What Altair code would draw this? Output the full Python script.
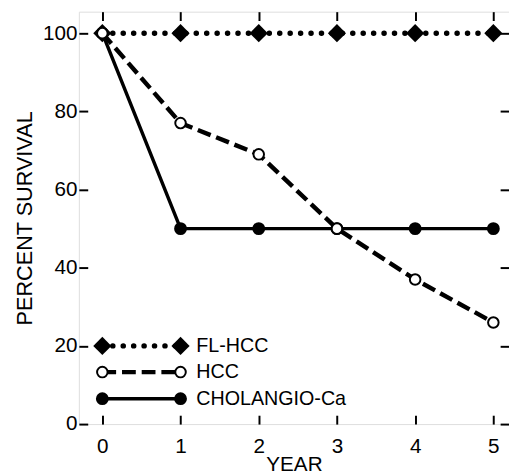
import altair as alt
import pandas as pd

years = [0, 1, 2, 3, 4, 5]
fl_hcc = [100, 100, 100, 100, 100, 100]
hcc = [100, 77, 69, 50, 37, 26]
cholangio = [100, 50, 50, 50, 50, 50]
series_names = ["FL-HCC", "HCC", "CHOLANGIO-Ca"]
legend_rows = [20, 13.3, 6.5]   # legend rows, in percent units
legend_span = [0, 1]            # legend sample lines run from year 0 to year 1
x_ticks = [0, 1, 2, 3, 4, 5]
y_ticks = [0, 20, 40, 60, 80, 100]

FONT = "Liberation Sans"

values = {"FL-HCC": fl_hcc, "HCC": hcc, "CHOLANGIO-Ca": cholangio}
main = pd.DataFrame(
    [{"series": s, "year": yr, "survival": v}
     for s in series_names for yr, v in zip(years, values[s])]
)
leg = pd.DataFrame(
    [{"series": s, "year": xv, "survival": ry}
     for s, ry in zip(series_names, legend_rows) for xv in legend_span]
)
leg_text = pd.DataFrame(
    [{"series": s, "year": legend_span[1], "survival": ry}
     for s, ry in zip(series_names, legend_rows)]
)

xscale = alt.Scale(domain=[-0.3, 5.2], nice=False, zero=False)
yscale = alt.Scale(domain=[0, 105.5], nice=False)

x_axis = alt.Axis(values=x_ticks, tickSize=9, offset=-9, domain=False, grid=False,
                  tickColor="black", tickWidth=2, labelFont=FONT, labelFontSize=21,
                  labelColor="black", labelPadding=12, title="YEAR", titleFont=FONT,
                  titleFontSize=21, titleFontWeight="normal", titleColor="black",
                  titlePadding=-3)
y_axis = alt.Axis(values=y_ticks, tickSize=9, offset=-9, domain=False, grid=False,
                  tickColor="black", tickWidth=2, labelFont=FONT, labelFontSize=21,
                  labelColor="black", labelPadding=2, title="PERCENT SURVIVAL",
                  titleFont=FONT, titleFontSize=22, titleFontWeight="normal",
                  titleColor="black", titlePadding=6)

X = alt.X("year:Q", scale=xscale, axis=x_axis)
Y = alt.Y("survival:Q", scale=yscale, axis=y_axis)
Xn = alt.X("year:Q", scale=xscale, axis=None)
Yn = alt.Y("survival:Q", scale=yscale, axis=None)

line_style = {
    "FL-HCC": dict(strokeDash=[0.1, 10.5], strokeCap="round", strokeWidth=5.5),
    "HCC": dict(strokeDash=[14, 6], strokeWidth=4.5),
    "CHOLANGIO-Ca": dict(strokeWidth=3.5),
}

def point_mark(s):
    if s == "FL-HCC":
        return alt.Chart().mark_point(shape="diamond", filled=True, size=340,
                                      color="black", opacity=1)
    if s == "HCC":
        return alt.Chart().mark_point(shape="circle", filled=True, fill="white",
                                      stroke="black", strokeWidth=2, size=115, opacity=1)
    return alt.Chart().mark_point(shape="circle", filled=True, color="black",
                                  size=170, opacity=1)

layers = []
# axis-carrying invisible layer
layers.append(alt.Chart(main).mark_point(opacity=0).encode(x=X, y=Y))
# top / right mirrored ticks
top_axis = alt.Axis(values=x_ticks, orient="top", tickSize=9, offset=-9, domain=False,
                    grid=False, labels=False, title=None, tickColor="black", tickWidth=2)
right_axis = alt.Axis(values=y_ticks, orient="right", tickSize=9, offset=-9, domain=False,
                      grid=False, labels=False, title=None, tickColor="black", tickWidth=2)
layers.append(alt.Chart(main).mark_point(opacity=0).encode(
    x=alt.X("year:Q", scale=xscale, axis=top_axis),
    y=alt.Y("survival:Q", scale=yscale, axis=right_axis)))

for s in series_names:
    layers.append(alt.Chart(main).transform_filter(alt.datum.series == s)
                  .mark_line(color="black", **line_style[s]).encode(x=Xn, y=Yn))
    layers.append(alt.Chart(leg).transform_filter(alt.datum.series == s)
                  .mark_line(color="black", **line_style[s]).encode(x=Xn, y=Yn))

for s in ["FL-HCC", "CHOLANGIO-Ca", "HCC"]:
    layers.append(point_mark(s).properties(data=main).transform_filter(alt.datum.series == s)
                  .encode(x=Xn, y=Yn))
    layers.append(point_mark(s).properties(data=leg).transform_filter(alt.datum.series == s)
                  .encode(x=Xn, y=Yn))

layers.append(alt.Chart(leg_text).mark_text(align="left", baseline="middle", dx=16,
                                             font=FONT, fontSize=20, color="black")
              .encode(x=Xn, y=Yn, text="series:N"))

chart = alt.layer(*layers).resolve_axis(x="independent", y="independent").properties(
    width=437, height=419,
    padding={"left": 72, "top": 0, "right": 0, "bottom": 48},
    autosize=alt.AutoSizeParams(type="none"),
).configure_view(stroke="black", strokeWidth=2).configure(background="white")

chart.save("out.html", embed_options={"renderer": "svg", "actions": False})
